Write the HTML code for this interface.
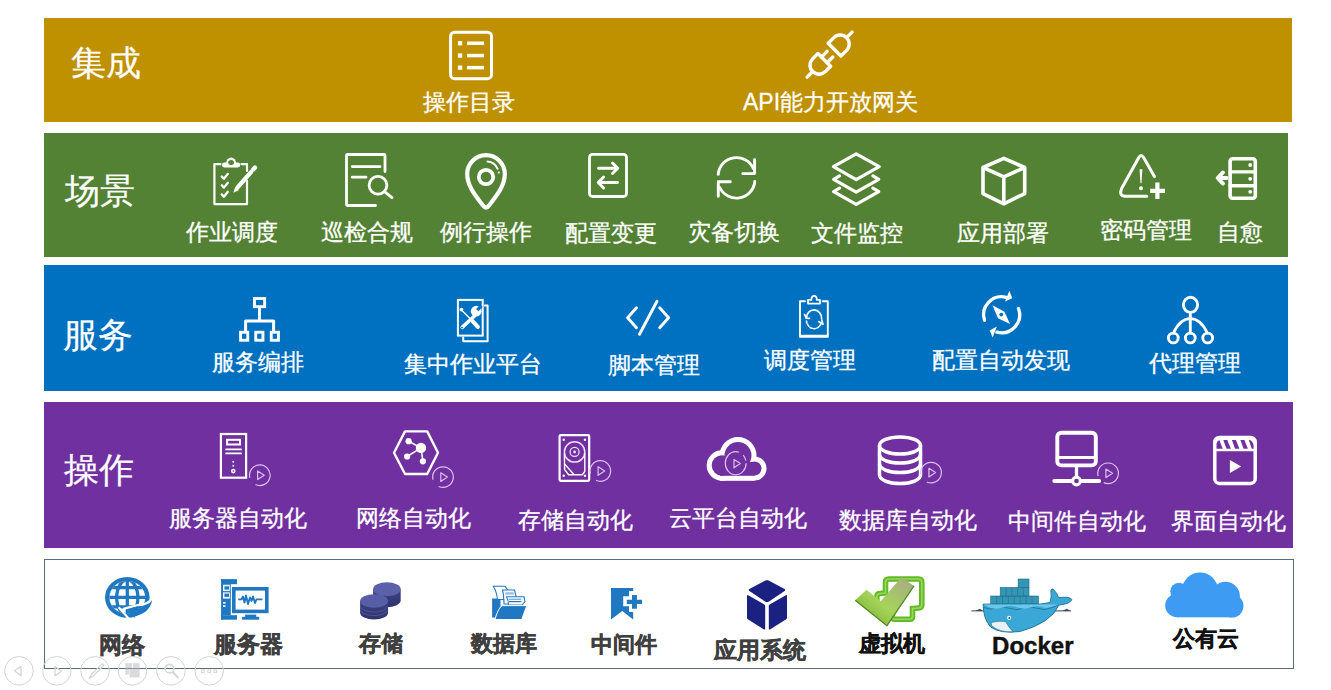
<!DOCTYPE html>
<html><head><meta charset="utf-8"><style>
html,body{margin:0;padding:0;background:#fff;width:1331px;height:690px;overflow:hidden}
.t{position:absolute;text-align:center;white-space:nowrap;font-family:"Liberation Sans",sans-serif}
</style></head><body>
<div style="position:absolute;left:44px;top:18px;width:1248px;height:104px;background:#BF9000;"></div><div style="position:absolute;left:44px;top:133px;width:1244px;height:124px;background:#548235;"></div><div style="position:absolute;left:44px;top:265px;width:1244px;height:126px;background:#0070C0;"></div><div style="position:absolute;left:44px;top:402px;width:1249px;height:146px;background:#7030A0;"></div><div style="position:absolute;left:44px;top:559px;width:1248px;height:108px;border:1px solid #5a6b7d;background:#fff"></div><div class="t" style="left:71px;top:45px;text-align:left;font-size:35px;line-height:35px;color:#fff;-webkit-text-stroke:0.2px #fff">集成</div><div class="t" style="left:65px;top:173px;text-align:left;font-size:35px;line-height:35px;color:#fff;-webkit-text-stroke:0.2px #fff">场景</div><div class="t" style="left:63px;top:317px;text-align:left;font-size:35px;line-height:35px;color:#fff;-webkit-text-stroke:0.2px #fff">服务</div><div class="t" style="left:64px;top:452px;text-align:left;font-size:35px;line-height:35px;color:#fff;-webkit-text-stroke:0.2px #fff">操作</div><div class="t" style="left:319px;top:91px;width:300px;font-size:23px;line-height:23px;color:#fff;font-weight:400;-webkit-text-stroke:0.3px #fff;">操作目录</div><div class="t" style="left:680.5px;top:91px;width:300px;font-size:23px;line-height:23px;color:#fff;font-weight:400;-webkit-text-stroke:0.3px #fff;">API能力开放网关</div><div class="t" style="left:82px;top:221px;width:300px;font-size:23px;line-height:23px;color:#fff;font-weight:400;-webkit-text-stroke:0.3px #fff;">作业调度</div><div class="t" style="left:217px;top:221px;width:300px;font-size:23px;line-height:23px;color:#fff;font-weight:400;-webkit-text-stroke:0.3px #fff;">巡检合规</div><div class="t" style="left:335.5px;top:221px;width:300px;font-size:23px;line-height:23px;color:#fff;font-weight:400;-webkit-text-stroke:0.3px #fff;">例行操作</div><div class="t" style="left:461px;top:222px;width:300px;font-size:23px;line-height:23px;color:#fff;font-weight:400;-webkit-text-stroke:0.3px #fff;">配置变更</div><div class="t" style="left:584px;top:221px;width:300px;font-size:23px;line-height:23px;color:#fff;font-weight:400;-webkit-text-stroke:0.3px #fff;">灾备切换</div><div class="t" style="left:707px;top:222px;width:300px;font-size:23px;line-height:23px;color:#fff;font-weight:400;-webkit-text-stroke:0.3px #fff;">文件监控</div><div class="t" style="left:852.7px;top:222px;width:300px;font-size:23px;line-height:23px;color:#fff;font-weight:400;-webkit-text-stroke:0.3px #fff;">应用部署</div><div class="t" style="left:996px;top:219px;width:300px;font-size:23px;line-height:23px;color:#fff;font-weight:400;-webkit-text-stroke:0.3px #fff;">密码管理</div><div class="t" style="left:1090px;top:221px;width:300px;font-size:23px;line-height:23px;color:#fff;font-weight:400;-webkit-text-stroke:0.3px #fff;">自愈</div><div class="t" style="left:108.39999999999998px;top:351px;width:300px;font-size:23px;line-height:23px;color:#fff;font-weight:400;-webkit-text-stroke:0.3px #fff;">服务编排</div><div class="t" style="left:323.4px;top:353px;width:300px;font-size:23px;line-height:23px;color:#fff;font-weight:400;-webkit-text-stroke:0.3px #fff;">集中作业平台</div><div class="t" style="left:504.4px;top:354px;width:300px;font-size:23px;line-height:23px;color:#fff;font-weight:400;-webkit-text-stroke:0.3px #fff;">脚本管理</div><div class="t" style="left:660.4px;top:349px;width:300px;font-size:23px;line-height:23px;color:#fff;font-weight:400;-webkit-text-stroke:0.3px #fff;">调度管理</div><div class="t" style="left:851.3px;top:349px;width:300px;font-size:23px;line-height:23px;color:#fff;font-weight:400;-webkit-text-stroke:0.3px #fff;">配置自动发现</div><div class="t" style="left:1044.7px;top:352px;width:300px;font-size:23px;line-height:23px;color:#fff;font-weight:400;-webkit-text-stroke:0.3px #fff;">代理管理</div><div class="t" style="left:88px;top:507px;width:300px;font-size:23px;line-height:23px;color:#fff;font-weight:400;-webkit-text-stroke:0.3px #fff;">服务器自动化</div><div class="t" style="left:263.5px;top:507px;width:300px;font-size:23px;line-height:23px;color:#fff;font-weight:400;-webkit-text-stroke:0.3px #fff;">网络自动化</div><div class="t" style="left:425.79999999999995px;top:509px;width:300px;font-size:23px;line-height:23px;color:#fff;font-weight:400;-webkit-text-stroke:0.3px #fff;">存储自动化</div><div class="t" style="left:588px;top:507px;width:300px;font-size:23px;line-height:23px;color:#fff;font-weight:400;-webkit-text-stroke:0.3px #fff;">云平台自动化</div><div class="t" style="left:758px;top:509px;width:300px;font-size:23px;line-height:23px;color:#fff;font-weight:400;-webkit-text-stroke:0.3px #fff;">数据库自动化</div><div class="t" style="left:927px;top:510px;width:300px;font-size:23px;line-height:23px;color:#fff;font-weight:400;-webkit-text-stroke:0.3px #fff;">中间件自动化</div><div class="t" style="left:1078.7px;top:510px;width:300px;font-size:23px;line-height:23px;color:#fff;font-weight:400;-webkit-text-stroke:0.3px #fff;">界面自动化</div><div class="t" style="left:-28.5px;top:634px;width:300px;font-size:23px;line-height:23px;color:#3f3f3f;font-weight:700;-webkit-text-stroke:0.45px #3f3f3f;">网络</div><div class="t" style="left:98px;top:633px;width:300px;font-size:23px;line-height:23px;color:#3f3f3f;font-weight:700;-webkit-text-stroke:0.45px #3f3f3f;">服务器</div><div class="t" style="left:230.5px;top:633px;width:300px;font-size:22px;line-height:22px;color:#3f3f3f;font-weight:700;-webkit-text-stroke:0.45px #3f3f3f;">存储</div><div class="t" style="left:354px;top:633px;width:300px;font-size:22px;line-height:22px;color:#3f3f3f;font-weight:700;-webkit-text-stroke:0.45px #3f3f3f;">数据库</div><div class="t" style="left:474px;top:634px;width:300px;font-size:22px;line-height:22px;color:#3f3f3f;font-weight:700;-webkit-text-stroke:0.45px #3f3f3f;">中间件</div><div class="t" style="left:610px;top:640px;width:300px;font-size:22.5px;line-height:22.5px;color:#3f3f3f;font-weight:700;-webkit-text-stroke:0.45px #3f3f3f;">应用系统</div><div class="t" style="left:741.5px;top:633px;width:300px;font-size:22px;line-height:22px;color:#111;font-weight:700;-webkit-text-stroke:0.45px #111;">虚拟机</div><div class="t" style="left:1055.8px;top:628px;width:300px;font-size:22px;line-height:22px;color:#111;font-weight:700;-webkit-text-stroke:0.45px #111;">公有云</div><div class="t" style="left:882.8px;top:634px;width:300px;font-size:24px;line-height:24px;color:#111;font-weight:700;-webkit-text-stroke:0.45px #111;">Docker</div>
<svg style="position:absolute;left:0;top:0" width="1331" height="690" viewBox="0 0 1331 690">
<rect x="450.6" y="32.2" width="40.9" height="46.5" rx="4" fill="none" stroke="#fff" stroke-width="3"/><rect x="457.9" y="41.1" width="4.3" height="4.3" fill="#fff"/><rect x="467" y="41.5" width="17" height="3.5" fill="#fff"/><rect x="457.9" y="53.4" width="4.3" height="4.3" fill="#fff"/><rect x="467" y="53.8" width="17" height="3.5" fill="#fff"/><rect x="457.9" y="65.5" width="4.3" height="4.3" fill="#fff"/><rect x="467" y="65.9" width="17" height="3.5" fill="#fff"/><g transform="translate(829.6,54.6) rotate(45)"><path d="M-9,-7 L9,-7 L9,-15 A9,9 0 0 0 -9,-15 Z" fill="none" stroke="#fff" stroke-width="3.4" stroke-linecap="round" stroke-linejoin="round" stroke-linecap="butt" stroke-linejoin="miter"/><path d="M0,-24 L0,-31.8" fill="none" stroke="#fff" stroke-width="3.4" stroke-linecap="round" stroke-linejoin="round" /><path d="M-9,7.5 L9,7.5 L9,15 A9,9 0 0 1 -9,15 Z" fill="none" stroke="#fff" stroke-width="3.4" stroke-linecap="round" stroke-linejoin="round" stroke-linecap="butt" stroke-linejoin="miter"/><path d="M0,24 L0,31.8" fill="none" stroke="#fff" stroke-width="3.4" stroke-linecap="round" stroke-linejoin="round" /><path d="M-4,7.5 L-4,-0.5 M4,7.5 L4,-0.5" fill="none" stroke="#fff" stroke-width="3.4" stroke-linecap="round" stroke-linejoin="round" /></g><path d="M220.5,164.1 L214.4,164.1 L214.4,204.1 L247,204.1 L247,180.5 M247,171 L247,164.1 L241.5,164.1" fill="none" stroke="#fff" stroke-width="2.2" stroke-linecap="round" stroke-linejoin="round" stroke-linecap="butt" stroke-linejoin="miter"/><rect x="222" y="162.6" width="18.2" height="4.9" rx="2.4" fill="#fff"/><path d="M226,164 A5.1,6.6 0 0 1 236.2,164 Z" fill="#fff"/><ellipse cx="231.1" cy="162.4" rx="2.9" ry="2.5" fill="#548235"/><path d="M221.8,176.5 L223.9,178.8 L227.8,173.9" fill="none" stroke="#fff" stroke-width="2.3" stroke-linecap="round" stroke-linejoin="round" /><path d="M221.8,185.3 L223.9,187.60000000000002 L227.8,182.70000000000002" fill="none" stroke="#fff" stroke-width="2.3" stroke-linecap="round" stroke-linejoin="round" /><path d="M221.8,194.4 L223.9,196.70000000000002 L227.8,191.8" fill="none" stroke="#fff" stroke-width="2.3" stroke-linecap="round" stroke-linejoin="round" /><path d="M237.6,187.4 L251.2,171.8" fill="none" stroke="#fff" stroke-width="4.3" stroke-linecap="round" stroke-linejoin="round" stroke-linecap="butt"/><path d="M253.4,169.3 L255,167.5" fill="none" stroke="#fff" stroke-width="4.3" stroke-linecap="round" stroke-linejoin="round" stroke-linecap="round"/><path d="M233.3,192.8 L235.2,186.9 L238.9,190.3 Z" fill="#fff" /><path d="M385,171.5 L385,155.5 Q385,154.5 384,154.5 L347.5,154.5 Q346.5,154.5 346.5,155.5 L346.5,204.5 Q346.5,205.5 347.5,205.5 L375.5,205.5" fill="none" stroke="#fff" stroke-width="2.8" stroke-linecap="round" stroke-linejoin="round" stroke-linecap="butt"/><path d="M352.2,166.6 L380,166.6 M352.2,177.2 L366,177.2" fill="none" stroke="#fff" stroke-width="2.8" stroke-linecap="round" stroke-linejoin="round" stroke-linecap="butt"/><circle cx="378" cy="185.3" r="8.9" fill="none" stroke="#fff" stroke-width="2.8"/><path d="M384.5,191.7 L392,197.6" fill="none" stroke="#fff" stroke-width="2.8" stroke-linecap="round" stroke-linejoin="round" /><path d="M486,207.6 Q484.5,207.6 482.6,205 C474,194 467.2,185 467.2,174 A18.8,18.8 0 0 1 504.8,174 C504.8,185 498,194 489.4,205 Q487.5,207.6 486,207.6 Z" fill="none" stroke="#fff" stroke-width="4.2" stroke-linecap="round" stroke-linejoin="round" /><circle cx="486" cy="177" r="7.2" fill="none" stroke="#fff" stroke-width="3.8"/><path d="M487.5,161.5 A12,12 0 0 1 497.6,168.8" fill="none" stroke="#fff" stroke-width="1.9" stroke-linecap="round" stroke-linejoin="round" /><circle cx="498.8" cy="172.6" r="1.1" fill="#fff"/><rect x="589.5" y="154.3" width="37" height="42.2" rx="3" fill="none" stroke="#fff" stroke-width="2.8"/><path d="M598.5,168.3 L617.5,168.3 M612.5,163 L617.8,168.3 L612.5,173.5" fill="none" stroke="#fff" stroke-width="2.9" stroke-linecap="round" stroke-linejoin="round" /><path d="M598.5,182.5 L617.5,182.5 M603.6,177 L598.2,182.5 L603.6,188" fill="none" stroke="#fff" stroke-width="2.9" stroke-linecap="round" stroke-linejoin="round" /><path d="M718.2,174.4 A18.4,18.4 0 0 1 753.3,168.5" fill="none" stroke="#fff" stroke-width="2.9" stroke-linecap="round" stroke-linejoin="round" stroke-linecap="butt"/><path d="M754.6,159.6 L754.6,173.6 L742.8,173.6" fill="none" stroke="#fff" stroke-width="2.9" stroke-linecap="round" stroke-linejoin="round" stroke-linecap="butt" stroke-linejoin="miter"/><path d="M754.8,181.5 A18.4,18.4 0 0 1 719.8,187.5" fill="none" stroke="#fff" stroke-width="2.9" stroke-linecap="round" stroke-linejoin="round" stroke-linecap="butt"/><path d="M718.3,196.2 L718.3,181.7 L730.3,181.7" fill="none" stroke="#fff" stroke-width="2.9" stroke-linecap="round" stroke-linejoin="round" stroke-linecap="butt" stroke-linejoin="miter"/><g transform="translate(856.2,179.5) scale(1.045) translate(-856.2,-179.5)"><path d="M856.2,155 L878.2,167.2 L856.2,179.6 L834.4,167.2 Z" fill="none" stroke="#fff" stroke-width="3.1" stroke-linecap="round" stroke-linejoin="round" /><path d="M840.2,176 L834.6,179.3 L856.2,191.5 L877.8,179.3 L872.2,176" fill="none" stroke="#fff" stroke-width="3.1" stroke-linecap="round" stroke-linejoin="round" /><path d="M840.2,187.8 L834.6,191.1 L856.2,203.3 L877.8,191.1 L872.2,187.8" fill="none" stroke="#fff" stroke-width="3.1" stroke-linecap="round" stroke-linejoin="round" /></g><path d="M1003.8,158.4 L1024.7,167.5 L1024.7,193.6 L1003.8,203.8 L983,193.6 L983,167.5 Z M983,167.5 L1003.8,176.8 L1024.7,167.5 M1003.8,176.8 L1003.8,203.8" fill="none" stroke="#fff" stroke-width="3.6" stroke-linecap="round" stroke-linejoin="round" /><path d="M1154.4,176.6 L1143.6,157.6 Q1141.2,153.6 1138.8,157.6 L1121.6,188.6 Q1118.7,195.6 1124.5,196.2 L1146.8,196.2" fill="none" stroke="#fff" stroke-width="3" stroke-linecap="round" stroke-linejoin="round" /><path d="M1139.6,169.3 L1142.4,169.3 L1141.5,183.3 L1140.5,183.3 Z" fill="#fff" /><circle cx="1141" cy="188.3" r="2" fill="#fff"/><path d="M1155.3,182.5 h4.2 v6.3 h5.5 v4.2 h-5.5 v6 h-4.2 v-6 h-5.1 v-4.2 h5.1 Z" fill="#fff" /><rect x="1230.1" y="158.7" width="25.2" height="39.5" rx="2.5" fill="none" stroke="#fff" stroke-width="3.6"/><path d="M1230.1,171.9 L1255.3,171.9 M1230.1,185.7 L1255.3,185.7" fill="none" stroke="#fff" stroke-width="3.4" stroke-linecap="round" stroke-linejoin="round" stroke-linecap="butt"/><circle cx="1250.2" cy="165" r="1.9" fill="#fff"/><circle cx="1250.2" cy="178.8" r="1.9" fill="#fff"/><circle cx="1250.2" cy="191.8" r="1.9" fill="#fff"/><path d="M1218,178 L1226.6,178 M1223,172.4 L1217.6,178 L1223,183.6" fill="none" stroke="#fff" stroke-width="3.8" stroke-linecap="round" stroke-linejoin="round" /><rect x="254.45" y="298.55" width="10.2" height="8.1" fill="none" stroke="#fff" stroke-width="2.9"/><path d="M259.5,308 L259.5,321.1 M245.6,331 L245.6,321.1 L273.6,321.1 L273.6,331" fill="none" stroke="#fff" stroke-width="3" stroke-linecap="round" stroke-linejoin="round" stroke-linecap="butt" stroke-linejoin="miter"/><rect x="240.55" y="332.25" width="7.2" height="8" fill="none" stroke="#fff" stroke-width="2.9"/><rect x="255.75" y="332.25" width="7.2" height="8" fill="none" stroke="#fff" stroke-width="2.9"/><rect x="271.25" y="332.25" width="7.2" height="8" fill="none" stroke="#fff" stroke-width="2.9"/><path d="M484.7,305.6 L487.6,305.6 L487.6,341.3 L463.2,341.3 L463.2,337.6" fill="none" stroke="#fff" stroke-width="2" stroke-linecap="round" stroke-linejoin="round" stroke-linecap="butt" stroke-linejoin="miter"/><rect x="457.9" y="299.9" width="24.8" height="35.7" fill="none" stroke="#fff" stroke-width="2"/><path d="M461.3,309.8 L471,319.6" fill="none" stroke="#fff" stroke-width="1.4" stroke-linecap="round" stroke-linejoin="round" /><circle cx="461.4" cy="309.6" r="1.9" fill="#fff"/><path d="M473,321.6 L477.8,326.9" fill="none" stroke="#fff" stroke-width="4.2" stroke-linecap="round" stroke-linejoin="round" /><path d="M474.5,316 L462.2,327.3" fill="none" stroke="#fff" stroke-width="3.6" stroke-linecap="round" stroke-linejoin="round" /><circle cx="462" cy="327.6" r="0.9" fill="#0070C0"/><circle cx="476.2" cy="311.2" r="5.4" fill="#fff"/><rect x="-1.6" y="-6.2" width="3.2" height="6.2" fill="#0070C0" transform="translate(477.2,310.2) rotate(45)"/><path d="M636.5,307.8 L627.6,317.7 L636.5,327.7 M659.7,307.8 L668.6,317.7 L659.7,327.7" fill="none" stroke="#fff" stroke-width="2.9" stroke-linecap="round" stroke-linejoin="round" stroke-linecap="square" stroke-linejoin="miter"/><path d="M657,301.3 L639.5,334.3" fill="none" stroke="#fff" stroke-width="2.9" stroke-linecap="round" stroke-linejoin="round" stroke-linecap="butt"/><path d="M805,301.2 L800,301.2 L800,336.9 L827.8,336.9 L827.8,301.2 L822.8,301.2" fill="none" stroke="#fff" stroke-width="1.9" stroke-linecap="round" stroke-linejoin="round" stroke-linecap="butt" stroke-linejoin="miter"/><path d="M800.5,335.6 L827.3,335.6" fill="none" stroke="#fff" stroke-width="1.6" stroke-linecap="round" stroke-linejoin="round" /><path d="M808,303.6 L808,299.9 L811.3,299.9 Q811.5,295.8 814.1,295.8 Q816.7,295.8 816.9,299.9 L820,299.9 L820,303.6 Z" fill="none" stroke="#fff" stroke-width="1.8" stroke-linecap="round" stroke-linejoin="round" stroke-linejoin="miter"/><path d="M806.4,318.2 A7.6,8.6 0 0 1 821.6,318.6" fill="none" stroke="#fff" stroke-width="1.7" stroke-linecap="round" stroke-linejoin="round" stroke-linecap="butt"/><path d="M804.6,314.6 L806.4,318.2 L809.6,318.4" fill="none" stroke="#fff" stroke-width="1.7" stroke-linecap="round" stroke-linejoin="round" /><path d="M806.5,321 A7.6,8.6 0 0 0 821.2,323" fill="none" stroke="#fff" stroke-width="1.5" stroke-linecap="round" stroke-linejoin="round" stroke-dasharray="2.2 1.4" stroke-linecap="butt"/><path d="M818.6,321.6 L822.9,324.2 L821.8,320" fill="none" stroke="#fff" stroke-width="1.7" stroke-linecap="round" stroke-linejoin="round" /><path d="M984.48,320.36 A18,18 0 0 1 1006.26,297.41" fill="none" stroke="#fff" stroke-width="3.3" stroke-linecap="round" stroke-linejoin="round" stroke-linecap="butt"/><path d="M1009.4,290.8 L1012.2,298.3 L1005,301.6 Z" fill="#fff" /><path d="M1018.47,308.53 A18,18 0 0 1 996.94,332.19" fill="none" stroke="#fff" stroke-width="3.3" stroke-linecap="round" stroke-linejoin="round" stroke-linecap="butt"/><path d="M996.9,326.6 L989.7,330.4 L992.6,337.6 Z" fill="#fff" /><path d="M992.5,305.3 L1004.5,311.8 L1010,324 L998,318.2 Z" fill="#fff" /><circle cx="1001.3" cy="314.6" r="1.9" fill="#0070C0"/><ellipse cx="1190.5" cy="304.8" rx="7.1" ry="7.6" fill="none" stroke="#fff" stroke-width="2.9"/><path d="M1190.3,312.4 L1190.3,333" fill="none" stroke="#fff" stroke-width="2.9" stroke-linecap="round" stroke-linejoin="round" stroke-linecap="butt"/><path d="M1173.5,333 Q1180,318.6 1190.3,318.6 Q1200.6,318.6 1207.3,333" fill="none" stroke="#fff" stroke-width="2.9" stroke-linecap="round" stroke-linejoin="round" stroke-linecap="butt"/><circle cx="1173.3" cy="338" r="4.9" fill="none" stroke="#fff" stroke-width="2.9"/><circle cx="1190.3" cy="338" r="4.9" fill="none" stroke="#fff" stroke-width="2.9"/><circle cx="1207.7" cy="338" r="4.9" fill="none" stroke="#fff" stroke-width="2.9"/><rect x="220.9" y="434" width="25.2" height="43.7" fill="none" stroke="#fff" stroke-width="2.2"/><rect x="227.1" y="439.8" width="12.9" height="4.7" fill="none" stroke="#fff" stroke-width="2"/><path d="M226.1,449.4 L241,449.4 M226.1,453.4 L241,453.4" fill="none" stroke="#fff" stroke-width="1.8" stroke-linecap="round" stroke-linejoin="round" stroke-linecap="butt"/><circle cx="233.3" cy="461.7" r="0.95" fill="#fff"/><circle cx="233.3" cy="465.7" r="0.95" fill="#fff"/><circle cx="233.3" cy="471.1" r="2.3" fill="#fff"/><circle cx="233.3" cy="471.1" r="0.8" fill="#7030A0"/><path d="M249.85,477.87 A10.3,10.3 0 1 1 255.45,484.53" fill="none" stroke="#dcbff0" stroke-width="1.2"/><path d="M257.60,470.90 L264.20,475.20 L257.60,479.50 Z" fill="none" stroke="#dcbff0" stroke-width="1.2" stroke-linejoin="round"/><path d="M394,452.7 L405,431.4 L427.2,431.4 L438,452.7 L427.2,474 L405,474 Z" fill="none" stroke="#fff" stroke-width="2.4" stroke-linecap="round" stroke-linejoin="round" stroke-linejoin="miter"/><path d="M421,447.9 L408.6,441.2 M421,447.9 L407.1,456.5 M421,447.9 L422.9,461.3" fill="none" stroke="#fff" stroke-width="1.6" stroke-linecap="round" stroke-linejoin="round" /><circle cx="421" cy="447.9" r="5.2" fill="#fff"/><circle cx="408.6" cy="441.2" r="3.1" fill="#fff"/><circle cx="407.1" cy="456.5" r="3.1" fill="#fff"/><circle cx="422.9" cy="461.3" r="3.1" fill="#fff"/><path d="M433.05,479.77 A10.3,10.3 0 1 1 438.65,486.43" fill="none" stroke="#dcbff0" stroke-width="1.2"/><path d="M440.80,472.80 L447.40,477.10 L440.80,481.40 Z" fill="none" stroke="#dcbff0" stroke-width="1.2" stroke-linejoin="round"/><rect x="559.6" y="435.2" width="29.6" height="45.6" rx="1" fill="none" stroke="#fff" stroke-width="2.2"/><circle cx="563.7" cy="439.7" r="1.2" fill="#fff"/><circle cx="585" cy="439.7" r="1.2" fill="#fff"/><circle cx="563.7" cy="475.8" r="1.2" fill="#fff"/><circle cx="585" cy="475.8" r="1.2" fill="#fff"/><circle cx="574.6" cy="451.9" r="10.2" fill="none" stroke="#f0e0ff" stroke-width="1.5"/><circle cx="574.6" cy="451.9" r="4.5" fill="none" stroke="#f0e0ff" stroke-width="1.3"/><circle cx="574.6" cy="451.9" r="1.3" fill="#fff"/><path d="M564.4,454 L564.6,469.5 L568.6,474.7 L582.3,474.7 L584.8,471.5 L584.8,454" fill="none" stroke="#fff" stroke-width="1.4" stroke-linecap="round" stroke-linejoin="round" /><path d="M565,464.5 L573.5,474" fill="none" stroke="#fff" stroke-width="1.4" stroke-linecap="round" stroke-linejoin="round" /><path d="M590.35,473.67 A10.3,10.3 0 1 1 595.95,480.33" fill="none" stroke="#dcbff0" stroke-width="1.2"/><path d="M598.10,466.70 L604.70,471.00 L598.10,475.30 Z" fill="none" stroke="#dcbff0" stroke-width="1.2" stroke-linejoin="round"/><g fill="#fff"><circle cx="722" cy="465.5" r="15.3"/><circle cx="738" cy="455.5" r="18.5"/><circle cx="754.5" cy="468.5" r="12"/><rect x="720" y="467.5" width="34.5" height="13.3"/></g><g fill="#7030A0"><circle cx="722" cy="465.5" r="10.3"/><circle cx="738" cy="455.5" r="13.5"/><circle cx="754.5" cy="468.5" r="7"/><rect x="720" y="462" width="34.5" height="13.8"/></g><ellipse cx="735.7" cy="463.2" rx="10.4" ry="11.6" fill="none" stroke="#dcbff0" stroke-width="1.2" stroke-dasharray="55 5 6 20"/><path d="M734,459.6 L740.3,463.6 L734,467.8 Z" fill="none" stroke="#dcbff0" stroke-width="1.2" stroke-linejoin="round"/><ellipse cx="900" cy="445.5" rx="20.5" ry="8.6" fill="none" stroke="#fff" stroke-width="3.5"/><path d="M879.5,445.5 L879.5,475 A20.5,8.6 0 0 0 920.5,475 L920.5,445.5" fill="none" stroke="#fff" stroke-width="3.5" stroke-linecap="round" stroke-linejoin="round" stroke-linecap="butt"/><path d="M879.5,454.5 A20.5,8.6 0 0 0 920.5,454.5 M879.5,464 A20.5,8.6 0 0 0 920.5,464" fill="none" stroke="#fff" stroke-width="3.5" stroke-linecap="round" stroke-linejoin="round" stroke-linecap="butt"/><path d="M921.15,475.27 A10.3,10.3 0 1 1 926.75,481.93" fill="none" stroke="#dcbff0" stroke-width="1.2"/><path d="M928.90,468.30 L935.50,472.60 L928.90,476.90 Z" fill="none" stroke="#dcbff0" stroke-width="1.2" stroke-linejoin="round"/><rect x="1057.3" y="432.8" width="38.5" height="32.6" rx="4" fill="none" stroke="#fff" stroke-width="3.9"/><path d="M1057.3,457.5 L1095.8,457.5" fill="none" stroke="#fff" stroke-width="3" stroke-linecap="round" stroke-linejoin="round" stroke-linecap="butt"/><path d="M1076.5,466 L1076.5,476" fill="none" stroke="#fff" stroke-width="3.3" stroke-linecap="round" stroke-linejoin="round" stroke-linecap="butt"/><path d="M1054.3,481 L1071.5,481 M1081.5,481 L1099.2,481" fill="none" stroke="#fff" stroke-width="3.9" stroke-linecap="round" stroke-linejoin="round" /><circle cx="1076.5" cy="481" r="3.9" fill="none" stroke="#fff" stroke-width="3.1"/><path d="M1098.15,475.97 A10.3,10.3 0 1 1 1103.75,482.63" fill="none" stroke="#dcbff0" stroke-width="1.2"/><path d="M1105.90,469.00 L1112.50,473.30 L1105.90,477.60 Z" fill="none" stroke="#dcbff0" stroke-width="1.2" stroke-linejoin="round"/><rect x="1214.8" y="437.4" width="40.4" height="46" rx="4.5" fill="none" stroke="#fff" stroke-width="3.5"/><rect x="1215" y="437.5" width="40" height="13.2" rx="3" fill="#fff"/><path d="M1215,450 L1255,450" fill="none" stroke="#fff" stroke-width="2.6" stroke-linecap="round" stroke-linejoin="round" stroke-linecap="butt"/><path d="M1223.3,440.1 L1227.3,440.1 L1230.8,448.8 L1226.5,448.8 Z" fill="#7030A0"/><path d="M1231.9,440.1 L1235.9,440.1 L1239.4,448.8 L1235.1000000000001,448.8 Z" fill="#7030A0"/><path d="M1240.4,440.1 L1244.4,440.1 L1247.9,448.8 L1243.6000000000001,448.8 Z" fill="#7030A0"/><path d="M1219.3,440.1 L1222.7,448.8 L1216.5,448.8 L1216.5,444 Q1217,441 1219.3,440.1 Z" fill="#7030A0"/><path d="M1248.8,440.1 L1249.9,440.1 Q1253.4,442 1253.6,446 L1253.6,448.8 L1251.8,448.8 Z" fill="#7030A0"/><path d="M1229.9,460 L1241.2,466.5 L1229.9,473 Z" fill="#fff" /><defs><clipPath id="gc"><ellipse cx="127.3" cy="597.4" rx="17.9" ry="16.3"/></clipPath></defs><ellipse cx="127.3" cy="597.4" rx="22.3" ry="20.4" fill="#1f78c1"/><ellipse cx="127.3" cy="597.4" rx="17.9" ry="16.3" fill="#fff"/><g clip-path="url(#gc)" stroke="#1f78c1" stroke-width="3.3" fill="none"><line x1="127.3" y1="570" x2="127.3" y2="625"/><ellipse cx="127.3" cy="597.4" rx="10.6" ry="17.5"/><line x1="100" y1="587.6" x2="155" y2="587.6"/><line x1="100" y1="597.4" x2="155" y2="597.4"/><line x1="100" y1="606.8" x2="155" y2="606.8"/></g><path d="M153.5,597.5 Q147,605.5 137.6,605.1 L123.5,608.8" fill="none" stroke="#fff" stroke-width="2.3"/><path d="M152.2,600 Q150,613 134.6,616.2 L134.6,618 L125.8,609.6 L138,606.2 L138,608.4 Q147,607.2 152.2,600 Z" fill="#1f78c1"/><path d="M118.6,607.2 L128.8,618.6" fill="none" stroke="#fff" stroke-width="2.1"/><g fill="#1f78c1"><rect x="221.1" y="579.1" width="15.9" height="5.1"/><rect x="221.1" y="579.1" width="1.9" height="40.6"/><rect x="221.1" y="615.2" width="15.9" height="4.5"/><rect x="223" y="584.2" width="7.8" height="31"/></g><rect x="223" y="584.9" width="6.8" height="6.2" fill="#fff"/><rect x="224.4" y="586.3" width="4.6" height="3.3" fill="#1f78c1"/><rect x="223" y="592.4" width="6.8" height="6.2" fill="#fff"/><rect x="224.4" y="593.6" width="4.6" height="3.3" fill="#1f78c1"/><rect x="223" y="602" width="2.6" height="1.6" fill="#fff"/><rect x="223" y="605.3" width="2.6" height="1.6" fill="#fff"/><rect x="231.9" y="587" width="36.8" height="26.2" fill="#fff"/><rect x="233.8" y="588.8" width="33" height="22.6" fill="none" stroke="#1f78c1" stroke-width="3.6"/><path d="M238.2,599.4 L241.5,599.4 L243,596.5 L244.5,602.5 L246,595.5 L248,604 L250,597.5 L251.5,601 L253,596.5 L255,603 L256.5,599.4 L262.4,599.4" fill="none" stroke="#1f78c1" stroke-width="1.9" stroke-linejoin="round"/><rect x="245.2" y="614.6" width="11" height="2.4" fill="#1f78c1"/><rect x="242.1" y="616.8" width="17" height="2.9" fill="#1f78c1"/><defs><linearGradient id="dside" x1="0" y1="0" x2="0" y2="1"><stop offset="0" stop-color="#3d4285"/><stop offset="1" stop-color="#2e3370"/></linearGradient></defs><path d="M373.1,589.2 L373.1,600.3 A13.8,7 0 0 0 400.7,600.3 L400.7,589.2 Z" fill="url(#dside)"/><ellipse cx="386.9" cy="589.2" rx="13.8" ry="7" fill="#5a61a8"/><path d="M360.1,601 L360.1,612.8 A14,6.7 0 0 0 388.1,612.8 L388.1,601 Z" fill="url(#dside)"/><path d="M360.3,606.5 A14,6.7 0 0 0 387.9,606.5 M360.3,610 A14,6.7 0 0 0 387.9,610" fill="none" stroke="#5a5f9a" stroke-width="0.7"/><ellipse cx="374.1" cy="601" rx="14" ry="6.7" fill="#575ea5"/><path d="M492.1,598.5 L500.5,598.5 L500.5,617.6 L492.1,617.6 Z" fill="#1f78c1"/><path d="M493.2,586.3 L505,586.3 L508.5,591 L508.5,599.5 L497.5,599.5 Q496.5,591 493.2,586.3 Z" fill="#fff" stroke="#1f78c1" stroke-width="1.1"/><path d="M502.5,590 L514.5,590 L515.8,595 L515.8,604 L504,604 Q503.8,595 502.5,590 Z" fill="#fff" stroke="#1f78c1" stroke-width="1.1"/><rect x="505.2" y="592.2" width="8.5" height="2.5" fill="#9cc0e0"/><path d="M506.5,596.8 L524,596.8 L525,601.5 L522,605 L508.5,605 Q508.5,600 506.5,596.8 Z" fill="#fff" stroke="#1f78c1" stroke-width="1.1"/><rect x="508.8" y="598.6" width="12.5" height="1.4" fill="#7fb0dc"/><rect x="508.8" y="601" width="12.5" height="1.2" fill="#1f78c1"/><path d="M502.5,605.6 L526.8,605.6 L521.7,619.5 L494.9,619.5 Q498.5,607 502.5,605.6 Z" fill="#1f78c1" stroke="#fff" stroke-width="1"/><path d="M611,588.1 L633.2,588.1 L633.2,591.1 L629,591.1 L629,596.3 L623.2,596.3 L623.2,606.3 L629,606.3 L629,612.1 L633.2,612.1 L633.2,619.4 L622.3,610.9 L611,619.4 Z" fill="#1f78c1"/><path d="M632,595.1 L636.9,595.1 L636.9,599.7 L642,599.7 L642,603.9 L636.9,603.9 L636.9,608.8 L632,608.8 L632,603.9 L626.8,603.9 L626.8,599.7 L632,599.7 Z" fill="#1f78c1"/><path d="M767,580.3 Q767.8,580 768.6,580.4 L784.6,589 Q786,590 784.6,591 L768.6,601.8 Q767,602.6 765.4,601.8 L749.4,591 Q748,590 749.4,589 L765.4,580.4 Q766.2,580 767,580.3 Z" fill="#1b2180"/><path d="M747,595.8 Q747,594.7 748.2,595.3 L764.4,604.6 Q765.2,605.2 765.2,606 L765.2,628.7 Q765.2,630 764,629.4 L748.2,619.6 Q747,618.8 747,617.8 Z" fill="#1b2180"/><path d="M787,595.8 Q787,594.7 785.8,595.3 L769.6,604.6 Q768.8,605.2 768.8,606 L768.8,628.7 Q768.8,630 770,629.4 L785.8,619.6 Q787,618.8 787,617.8 Z" fill="#1b2180"/><defs><linearGradient id="ck" x1="0" y1="1" x2="1" y2="0"><stop offset="0" stop-color="#6aa82a"/><stop offset="0.45" stop-color="#a6d45a"/><stop offset="1" stop-color="#a8a888"/></linearGradient><filter id="blur1" x="-20%" y="-20%" width="140%" height="140%"><feGaussianBlur stdDeviation="0.6"/></filter></defs><path d="M889,579 L918.5,579 Q921.8,579 921.8,582.5 L921.8,604.5 Q921.8,607.8 918.5,608 L912.5,608.5 L912.5,616.5 Q912.5,619.2 909.5,619.2 L895,619.2 Q892,619.2 892,616 L892,606 L880.5,606 Q876.8,606 876.8,602.5 L876.8,597 Q876.8,593.8 880,593.5 L885.5,593 L885.5,582.5 Q885.5,579 889,579 Z" fill="none" stroke="#62bb26" stroke-width="5.6" filter="url(#blur1)"/><path d="M889,579 L918.5,579 Q921.8,579 921.8,582.5 L921.8,604.5 Q921.8,607.8 918.5,608 L912.5,608.5 L912.5,616.5 Q912.5,619.2 909.5,619.2 L895,619.2 Q892,619.2 892,616 L892,606 L880.5,606 Q876.8,606 876.8,602.5 L876.8,597 Q876.8,593.8 880,593.5 L885.5,593 L885.5,582.5 Q885.5,579 889,579 Z" fill="none" stroke="#9ad85e" stroke-width="1.6" filter="url(#blur1)"/><path d="M855.2,600.2 L866.5,589.8 L880.8,601.2 L901.3,577.2 L913.8,585.7 L886.8,625.7 Z" fill="url(#ck)"/><path d="M855.2,600.2 L887,625.7 L914,585.8" fill="none" stroke="#4d8a1c" stroke-width="1.3" stroke-linejoin="round"/><path d="M971.4,610.9 L1071.2,610.9" stroke="#3a4a55" stroke-width="1"/><path d="M975,610.9 L980,608.8 L983,610.9 Z M1062,610.9 L1067,608.8 L1070,610.9 Z" fill="#3a4a55"/><g fill="#3496b4" stroke="#1d6a85" stroke-width="0.6"><rect x="990.7" y="596" width="47.7" height="8.1"/><rect x="1000.2" y="587.5" width="28.8" height="8.5"/><rect x="1018.1" y="579" width="10.9" height="8.5"/></g><g stroke="#1d6a85" stroke-width="0.5"><line x1="996.6" y1="596" x2="996.6" y2="604.1"/><line x1="1002.5" y1="596" x2="1002.5" y2="604.1"/><line x1="1008.4" y1="596" x2="1008.4" y2="604.1"/><line x1="1014.3" y1="596" x2="1014.3" y2="604.1"/><line x1="1020.2" y1="596" x2="1020.2" y2="604.1"/><line x1="1026.1" y1="596" x2="1026.1" y2="604.1"/><line x1="1032" y1="596" x2="1032" y2="604.1"/><line x1="1006" y1="587.5" x2="1006" y2="596"/><line x1="1011.8" y1="587.5" x2="1011.8" y2="596"/><line x1="1017.6" y1="587.5" x2="1017.6" y2="596"/><line x1="1023.4" y1="587.5" x2="1023.4" y2="596"/></g><path d="M983.1,604.1 L1040,604.1 L1050,602.5 Q1052,596 1050.8,590.5 Q1051.5,587.8 1053.5,589.5 Q1057.5,593.5 1058.5,597.5 L1066.5,597.2 Q1071.6,597.8 1071.8,599.8 Q1069.5,603.8 1062,604.5 L1058.8,605.3 Q1051,623 1020,631.5 Q1000,634 990.5,627 Q983,618 983.1,604.1 Z" fill="#3aa8d6" stroke="#1f6f8f" stroke-width="0.9"/><path d="M983.5,607.5 Q990,610.5 997,607.8 Q1003.5,605.5 1010,608.5 Q1017,611 1024,608 Q1031,605.5 1038,608.5 Q1045,611 1052,607.6 L1056,606 L1058.5,604.8" fill="none" stroke="#1f6f8f" stroke-width="0.8"/><path d="M983.6,604.5 L1058.6,604.5 Q1052,606.5 1046,608 Q1038,605 1031,607.3 Q1024,610 1017,607.3 Q1010,604.8 1003,607.3 Q996,610 990,607.5 Z" fill="#6cc8ea"/><path d="M991,622.5 Q1000,620.5 1005.5,621.5 Q1008.5,627 1013,631.8 Q1000,632.5 991.8,626 Z" fill="#e8f2f6" stroke="#1f6f8f" stroke-width="0.6"/><circle cx="1009.1" cy="617.8" r="2.1" fill="#fff"/><circle cx="1009.3" cy="618" r="1.1" fill="#1f6f8f"/><g fill="#3d9bf3"><circle cx="1177" cy="605.5" r="11.8"/><circle cx="1179" cy="591.5" r="8.7"/><circle cx="1200" cy="590.4" r="18"/><circle cx="1225.4" cy="596.2" r="14.5"/><circle cx="1232" cy="606" r="11.5"/><rect x="1177" y="595" width="55" height="22.3"/></g><g fill="none" stroke="#d4d4d4" stroke-width="1"><circle cx="18.9" cy="670.8" r="14.3"/><circle cx="56.8" cy="670.8" r="14.3"/><circle cx="95.1" cy="670.8" r="14.3"/><circle cx="132.5" cy="670.8" r="14.3"/><circle cx="170.9" cy="670.8" r="14.3"/><circle cx="209.2" cy="670.8" r="14.3"/></g><g fill="none" stroke="#d6d6d6" stroke-width="1.3" stroke-linejoin="round"><path d="M21,666.2 L14.5,670.8 L21,675.8 Z"/><path d="M55,666.2 L61.2,671.2 L55,675.8 Z"/><path d="M102.3,663.6 L91.2,674.8 L89.2,678.3 L92.8,676.4 L103.8,665.2 Z"/><circle cx="169.5" cy="668.7" r="4.3" stroke-width="1.6"/><path d="M172.5,671.8 L178.3,678" stroke-width="2"/></g><g fill="#dadada"><rect x="125.3" y="663.2" width="6.8" height="4.8"/><rect x="133" y="663.2" width="6.6" height="4.8"/><rect x="125.3" y="668.6" width="3.6" height="6"/><rect x="129.5" y="668.6" width="10.1" height="8.8"/></g><g fill="none" stroke="#d6d6d6" stroke-width="1"><rect x="201.6" y="670" width="2.6" height="2.6"/><rect x="207.8" y="670" width="2.6" height="2.6"/><rect x="214" y="670" width="2.6" height="2.6"/></g>
</svg>
</body></html>
